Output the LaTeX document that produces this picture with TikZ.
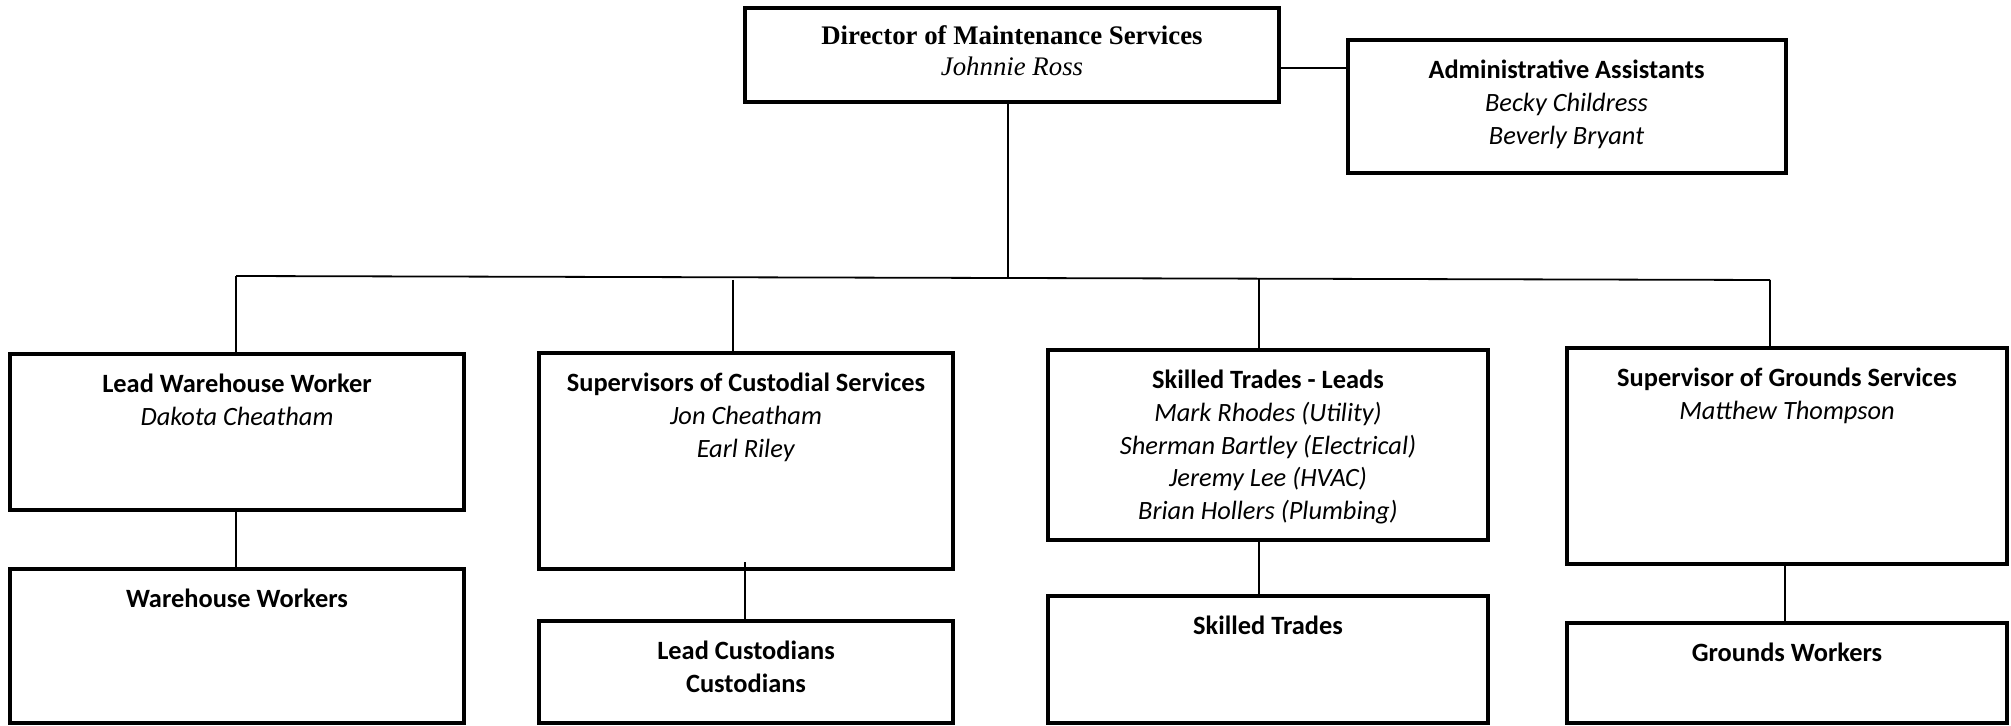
\documentclass[tikz,border=0pt]{standalone}
\usepackage{fontspec}
\setmainfont{Carlito}
\newfontfamily\timesfont{Liberation Serif}
\begin{document}
\begin{tikzpicture}[x=0.5pt,y=-0.5pt,
  box/.style={draw=black,line width=2pt,rectangle,inner sep=0pt,fill=white},
  conn/.style={draw=black,line width=0.9pt},
  txt/.style={anchor=north,inner sep=0pt,align=center,font=\fontsize{13.2}{16.3}\selectfont,yshift=-11pt},
  ttxt/.style={anchor=north,inner sep=0pt,align=center,font=\timesfont\fontsize{13.4}{15.5}\selectfont,yshift=-9.8pt}]
\useasboundingbox (0,0) rectangle (2011,726);
% bus
\coordinate (bL) at (236,276);
\coordinate (bR) at (1770,280);
\coordinate (bD) at (1008,278);
\coordinate (bC) at (733,280);
\coordinate (bS) at (1259,279);
\draw[conn] (bL) -- (bD) -- (bR);
% boxes
\node[box,minimum width=267pt,minimum height=47pt] (dir) at (1012,55) {};
\node[box,minimum width=219pt,minimum height=66.5pt] (adm) at (1566.5,106.5) {};
\node[box,minimum width=227pt,minimum height=78pt] (lww) at (237,432) {};
\node[box,minimum width=207pt,minimum height=108pt] (cus) at (746,461) {};
\node[box,minimum width=220pt,minimum height=95pt] (stl) at (1268,445) {};
\node[box,minimum width=220pt,minimum height=108pt] (sgs) at (1787,456) {};
\node[box,minimum width=227pt,minimum height=77pt] (ww) at (237,646) {};
\node[box,minimum width=207pt,minimum height=51pt] (lc) at (746,672) {};
\node[box,minimum width=220pt,minimum height=63.5pt] (st) at (1268,659.5) {};
\node[box,minimum width=220pt,minimum height=50pt] (gw) at (1787,673) {};
% connectors
\draw[conn] (dir.east |- 0,68) -- (adm.west |- 0,68);
\draw[conn] (dir.south -| bD) -- (bD);
\draw[conn] (bL) -- (bL |- lww.north);
\draw[conn] (bC) -- (bC |- cus.north);
\draw[conn] (bS) -- (bS |- stl.north);
\draw[conn] (bR) -- (bR |- sgs.north);
\draw[conn] (lww.south -| bL) -- (ww.north -| bL);
\draw[conn] (745,562) -- (lc.north -| 745,0);
\draw[conn] (stl.south -| bS) -- (st.north -| bS);
\draw[conn] (sgs.south -| 1785,0) -- (gw.north -| 1785,0);
% texts
\node[ttxt] (tdir) at (dir.north) {\textbf{Director of Maintenance Services}\\\textit{Johnnie Ross}};
\node[txt] (tadm) at (adm.north) {\textbf{Administrative Assistants}\\\textit{Becky Childress}\\\textit{Beverly Bryant}};
\node[txt] (tlww) at (lww.north) {\textbf{Lead Warehouse Worker}\\\textit{Dakota Cheatham}};
\node[txt] (tcus) at (cus.north) {\textbf{Supervisors of Custodial Services}\\\textit{Jon Cheatham}\\\textit{Earl Riley}};
\node[txt] (tstl) at (stl.north) {\textbf{Skilled Trades - Leads}\\\textit{Mark Rhodes (Utility)}\\\textit{Sherman Bartley (Electrical)}\\\textit{Jeremy Lee (HVAC)}\\\textit{Brian Hollers (Plumbing)}};
\node[txt] (tsgs) at (sgs.north) {\textbf{Supervisor of Grounds Services}\\\textit{Matthew Thompson}};
\node[txt] (tww) at (ww.north) {\textbf{Warehouse Workers}};
\node[txt] (tlc) at (lc.north) {\textbf{Lead Custodians}\\\textbf{Custodians}};
\node[txt] (tst) at (st.north) {\textbf{Skilled Trades}};
\node[txt] (tgw) at (gw.north) {\textbf{Grounds Workers}};
\end{tikzpicture}
\end{document}
